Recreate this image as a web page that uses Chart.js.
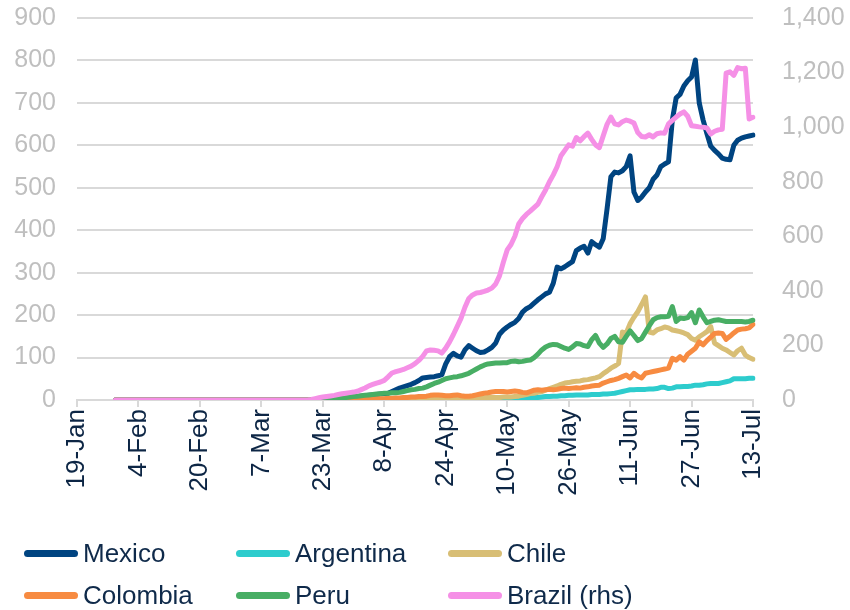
<!DOCTYPE html>
<html>
<head>
<meta charset="utf-8">
<script src="https://cdn.jsdelivr.net/npm/chart.js@4.4.1/dist/chart.umd.min.js"></script>
<style>
  body { margin: 0; background: #fff; }
  #wrap { position: relative; width: 850px; height: 610px; }
  #legend {
    position: absolute; left: 24px; top: 536px;
    display: grid; grid-template-columns: 212px 212px 212px; row-gap: 8px;
    font-family: 'Liberation Sans', Arial, sans-serif; font-size: 26px; color: #0f2a4a;
  }
  .item { display: flex; align-items: center; height: 34px; }
  .swatch { width: 54px; height: 7px; border-radius: 4px; margin-right: 5px; }
</style>
</head>
<body>
<div id="wrap">
  <canvas id="covidChart" width="850" height="610"></canvas>
  <div id="legend"></div>
</div>
<script>
// daily axis 19-Jan .. 13-Jul 2020, series start on 29-Jan
const firstDay = new Date(2020, 0, 19);
const dayCount = 177;
const seriesStart = 10;
const tickLabels = ['19-Jan', '4-Feb', '20-Feb', '7-Mar', '23-Mar', '8-Apr', '24-Apr', '10-May', '26-May', '11-Jun', '27-Jun', '13-Jul'];

const mexico = [
  0,0,0,0,0,0,0,0,0,0, 0,0,0,0,0,0,0,0,0,0, 0,0,0,0,0,0,0,0,0,0, 0,0,0,0,0,0,0,0,0,0, 0,0,0,0,0,0,0,0,0,0,
  0,0,1,1,2,2,3,4,4,5, 5,6,7,8,9,10,11,12,13,14, 15,16,20,24,28,31,34,37,41,46,
  52,53,54,55,57,60,85,102,110,104, 101,118,128,122,116,112,113,118,124,134,
  155,165,172,178,183,192,207,215,220,228, 236,243,250,254,275,313,309,314,320,326,
  352,358,362,346,373,366,360,380,450,526, 537,535,540,550,575,490,470,478,490,500,
  520,530,550,556,561,660,712,720,740,752, 761,801,700,660,628,598,588,580,570,567,
  566,600,612,617,620,622,624
];
const argentina = [
  0,0,0,0,0,0,0,0,0,0, 0,0,0,0,0,0,0,0,0,0, 0,0,0,0,0,0,0,0,0,0, 0,0,0,0,0,0,0,0,0,0, 0,0,0,0,0,0,0,0,0,0,
  0,0,0,0,0,0,0,0,0,0,
  1,1,1,1,1,1,1,2,2,2, 2,2,2,2,2,2,2,2,2,3, 3,3,3,3,3,3,3,3,3,3,
  3,3,3,4,4,4,4,4,4,4, 4,4,4,4,5,5,5,5,6,6, 6,7,8,8,9,9,10,10,11,11,
  12,12,12,12,13,13,13,14,14,15, 16,18,20,22,24,24,25,25,25,26, 26,27,30,30,27,28,31,31,32,32,
  33,35,35,36,38,39,39,39,41,43, 45,50,50,50,50,51,51
];
const chile = [
  0,0,0,0,0,0,0,0,0,0, 0,0,0,0,0,0,0,0,0,0, 0,0,0,0,0,0,0,0,0,0, 0,0,0,0,0,0,0,0,0,0, 0,0,0,0,0,0,0,0,0,0,
  0,0,0,0,0,0,0,0,0,0,
  0,0,1,1,1,1,1,2,2,2, 2,2,3,3,3,3,3,3,3,3, 3,4,4,4,4,4,4,4,4,4,
  4,5,5,5,5,5,5,6,6,6, 6,7,7,7,8,9,11,13,15,16, 18,20,23,27,30,33,37,40,41,43,
  44,45,47,48,50,52,55,62,68,75, 80,86,160,158,180,195,208,225,243,160, 158,165,168,172,170,165,163,161,158,154,
  145,141,149,155,161,173,134,128,122,118, 112,106,116,122,106,100,96
];
const colombia = [
  0,0,0,0,0,0,0,0,0,0, 0,0,0,0,0,0,0,0,0,0, 0,0,0,0,0,0,0,0,0,0, 0,0,0,0,0,0,0,0,0,0, 0,0,0,0,0,0,0,0,0,0,
  0,0,0,0,0,0,0,0,0,0,
  0,0,1,1,1,2,2,2,3,3, 3,4,4,5,5,6,6,7,7,8, 8,9,11,12,12,11,10,10,11,12,
  10,9,9,10,12,14,16,17,19,20, 20,20,19,20,21,20,18,17,20,23, 24,23,24,25,24,25,27,28,27,28,
  29,28,30,31,33,34,35,40,43,46, 48,51,55,59,52,63,56,52,63,65, 67,69,71,73,75,98,94,102,94,108,
  115,122,137,130,140,148,157,158,157,143, 150,158,165,167,168,170,178
];
const peru = [
  0,0,0,0,0,0,0,0,0,0, 0,0,0,0,0,0,0,0,0,0, 0,0,0,0,0,0,0,0,0,0, 0,0,0,0,0,0,0,0,0,0, 0,0,0,0,0,0,0,0,0,0,
  0,0,0,0,0,
  1,2,3,4,5, 6,7,8,9,10,11,12,13,14,15, 16,16,17,17,18,20,22,24,25,27,
  28,31,35,39,42,46,50,52,54,55, 57,60,63,68,73,78,82,85,86,87, 87,88,88,91,92,90,91,93,94,100,
  108,118,125,129,131,130,126,122,119,125, 133,132,128,126,142,152,134,124,132,145, 150,137,136,150,163,152,140,145,160,175,
  189,194,196,196,197,220,185,193,192,194, 206,182,212,196,182,185,188,189,187,185, 185,185,185,185,184,185,188
];
const brazil = [
  0,0,0,0,0,0,0,0,0,0, 0,0,0,0,0,0,0,0,0,0, 0,0,0,0,0,0,0,0,0,0, 0,0,0,0,0,0,0,0,0,0, 0,0,0,0,0,0,0,0,0,0,
  0,
  2,5,8,11,13,15,17,20,23, 25,27,29,32,38,44,52,57,62,66,
  72,85,99,104,108,112,118,124,133,145, 160,180,183,182,180,172,190,213,240,270,
  300,340,372,385,392,394,398,403,410,425, 455,505,550,570,600,645,665,680,692,705,
  718,745,770,800,825,855,895,915,935,930, 962,950,965,978,955,935,925,968,1010,1037,
  1012,1008,1020,1026,1022,1015,980,966,964,972, 964,976,979,978,1012,1025,1037,1048,1056,1040,
  1005,1003,1001,1000,997,975,985,990,992,1198, 1203,1190,1218,1214,1216,1030,1036
];

const monthNames = ['Jan', 'Feb', 'Mar', 'Apr', 'May', 'Jun', 'Jul', 'Aug', 'Sep', 'Oct', 'Nov', 'Dec'];
const days = [];
for (let i = 0; i < dayCount; i++) {
  const d = new Date(firstDay.getFullYear(), firstDay.getMonth(), firstDay.getDate() + i);
  days.push(d.getDate() + '-' + monthNames[d.getMonth()]);
}

function pad(values) {
  return new Array(seriesStart).fill(null).concat(values);
}

const font = "'Liberation Sans', Arial, sans-serif";
const gridGrey = '#d9d9d9';

const datasets = [
  { label: 'Mexico', data: pad(mexico), borderColor: '#004481', yAxisID: 'y', order: 6 },
  { label: 'Argentina', data: pad(argentina), borderColor: '#2dcccd', yAxisID: 'y', order: 5 },
  { label: 'Chile', data: pad(chile), borderColor: '#d8be75', yAxisID: 'y', order: 4 },
  { label: 'Colombia', data: pad(colombia), borderColor: '#f78b41', yAxisID: 'y', order: 3 },
  { label: 'Peru', data: pad(peru), borderColor: '#48ae64', yAxisID: 'y', order: 2 },
  { label: 'Brazil (rhs)', data: pad(brazil), borderColor: '#f590e6', yAxisID: 'y2', order: 1 }
];
datasets.forEach(ds => {
  ds.borderWidth = 5;
  ds.pointRadius = 0;
  ds.fill = false;
  ds.tension = 0;
  ds.borderJoinStyle = 'round';
  ds.borderCapStyle = 'round';
});

// keep the value axes from pushing the plot down because of their label padding
function fixWidth(w) {
  return s => {
    s.width = w;
    s.paddingTop = 0;
    s.paddingBottom = 0;
  };
}

const ctx = document.getElementById('covidChart').getContext('2d');
const covidChart = new Chart(ctx, {
  type: 'line',
  data: { labels: days, datasets: datasets },
  options: {
    responsive: false,
    animation: false,
    devicePixelRatio: 1,
    layout: { padding: { top: 18, bottom: 90, left: 0, right: 0 } },
    plugins: { legend: { display: false }, tooltip: { enabled: false } },
    scales: {
      x: {
        offset: false,
        afterFit: s => { s.height = 120; },
        border: { display: true, color: gridGrey, width: 2 },
        grid: {
          drawOnChartArea: false,
          drawTicks: true,
          tickLength: 7,
          lineWidth: 2,
          tickColor: c => (tickLabels.includes(days[c.index]) ? gridGrey : 'rgba(0,0,0,0)')
        },
        ticks: {
          autoSkip: false,
          minRotation: 90,
          maxRotation: 90,
          padding: 2,
          color: '#0d2645',
          font: { family: font, size: 26 },
          callback: function (v, i) {
            const lab = days[i];
            return tickLabels.includes(lab) ? lab : '';
          }
        }
      },
      y: {
        position: 'left',
        min: 0,
        max: 900,
        afterFit: fixWidth(77),
        border: { display: false },
        grid: { color: gridGrey, lineWidth: 2, drawTicks: false },
        ticks: { stepSize: 100, padding: 21, color: '#bfbfbf', font: { family: font, size: 25 } }
      },
      y2: {
        position: 'right',
        min: 0,
        max: 1400,
        afterFit: fixWidth(97),
        border: { display: false },
        grid: { drawOnChartArea: false, drawTicks: false },
        ticks: {
          stepSize: 200,
          padding: 29,
          color: '#bfbfbf',
          font: { family: font, size: 25 },
          callback: v => v.toLocaleString('en-US')
        }
      }
    }
  }
});

// legend in three columns, two rows
const legendBox = document.getElementById('legend');
covidChart.data.datasets.forEach(ds => {
  const item = document.createElement('div');
  item.className = 'item';
  const sw = document.createElement('span');
  sw.className = 'swatch';
  sw.style.background = ds.borderColor;
  const txt = document.createElement('span');
  txt.textContent = ds.label;
  item.appendChild(sw);
  item.appendChild(txt);
  legendBox.appendChild(item);
});
</script>
</body>
</html>
